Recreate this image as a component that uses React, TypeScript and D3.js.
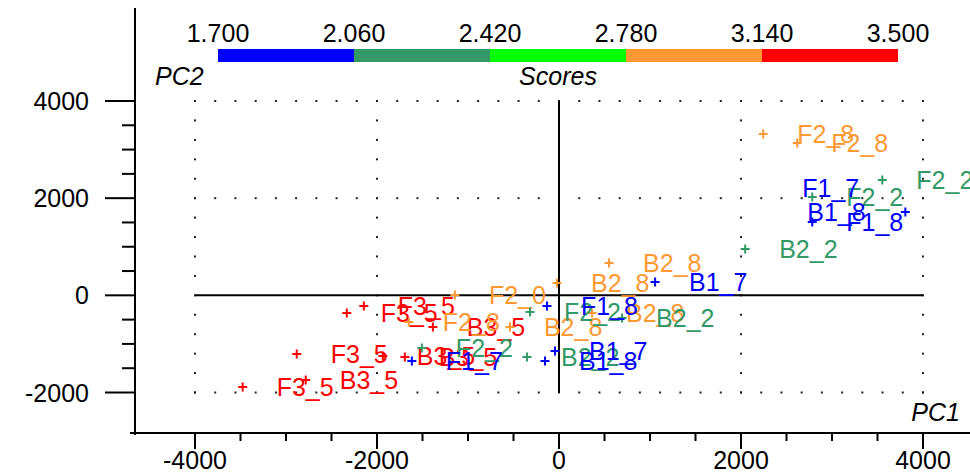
import React from "react";
import * as d3 from "d3";

// ---- data ----
const sampleNames = [
  // red
  "F3_5", "F3_5", "B3_5", "F3_5", "F3_5", "B3_5", "B3_5", "B3_5",
  // orange
  "F2_8", "F2_8", "B2_8", "B2_8", "F2_0", "F2_8", "B2_8", "B2_8",
  // sea green
  "F2_2", "F2_2", "B2_2", "F2_2", "B2_2", "F2_2", "B2_2",
  // blue
  "F1_7", "B1_8", "F1_8", "", "B1_7", "F1_8", "B1_7", "B1_8", "F1_7",
];
const pc1Values = [
  -3476, -2882, -2783, -2332, -2145, -1386, -1936, -1694,
  2244, 2618, 550, -22, -1144, -1650, -539, 363,
  3553, 2783, 2046, -319, 693, -1507, -352,
  2299, 2354, 2783, 3806, 1056, -132, -44, -154, -1617,
];
const pc2Values = [
  -1888, -1208, -1743, -364, -220, -652, -1249, -1270,
  3320, 3135, 665, 253, 6, -550, -652, -364,
  2373, 2023, 953, -344, -467, -1085, -1270,
  2209, 1715, 1509, 1715, 274, -220, -1146, -1352, -1352,
];
const scoreValues = [
  3.32, 3.32, 3.32, 3.32, 3.32, 3.32, 3.32, 3.32,
  2.96, 2.96, 2.96, 2.96, 2.96, 2.96, 2.96, 2.96,
  2.24, 2.24, 2.24, 2.24, 2.24, 2.24, 2.24,
  1.88, 1.88, 1.88, 1.88, 1.88, 1.88, 1.88, 1.88, 1.88,
];
// samples whose marker is not visible in the reference (label only)
const labelOnly = ["F1_7@23", "B1_8@24"];

const legendStops = [1.7, 2.06, 2.42, 2.78, 3.14, 3.5];
const legendColors = ["#0000ff", "#339966", "#00ff00", "#ff9933", "#ff0000"];
const xTickLabels = [-4000, -2000, 0, 2000, 4000];
const yTickLabels = [-2000, 0, 2000, 4000];

const W = 970;
const H = 474;
const FONT = "'Liberation Sans', Arial, sans-serif";
const FS = 25;

export default function App() {
  const x = d3.scaleLinear().domain([-4000, 4000]).range([195, 923]);
  const y = d3.scaleLinear().domain([-2000, 4000]).range([392.5, 101]);
  const colorOf = d3.scaleThreshold<number, string>()
    .domain(legendStops.slice(1, -1))
    .range(legendColors);
  const legendX = d3.scaleLinear().domain([1.7, 3.5]).range([218, 898]);

  const axisX = 135;
  const axisY = 433;

  const xMinor = d3.range(-4000, 4001, 500);
  const yMinor = d3.range(-2000, 4001, 500);

  // dotted grid
  const dotXs = d3.range(0, 37).map((i) => -4000 + (i * 2000) / 9);
  const dotYs = d3.range(-2000, 4001, 400);
  const dots: [number, number][] = [];
  [-2000, 2000, 4000].forEach((gy) => dotXs.forEach((dx) => dots.push([x(dx), y(gy)])));
  [-4000, -2000, 2000, 4000].forEach((gx) => dotYs.forEach((dy) => dots.push([x(gx), y(dy)])));

  const idx = d3.range(sampleNames.length);
  const hidden = new Set(labelOnly.map((s) => +s.split("@")[1]));

  return (
    <svg
      width={W}
      height={H}
      style={{ position: "fixed", left: 0, top: 0, background: "#fff" }}
      fontFamily={FONT}
    >
      <rect x={0} y={0} width={W} height={H} fill="#fff" />
      {/* grid dots */}
      {dots.map(([dx, dy], i) => (
        <rect key={"d" + i} x={dx - 1} y={dy - 1} width={2} height={2} fill="#222" />
      ))}
      {/* crosshair at zero */}
      <line x1={x(-4000)} x2={x(4000)} y1={y(0)} y2={y(0)} stroke="#000" strokeWidth={2} />
      <line x1={x(0)} x2={x(0)} y1={y(4000)} y2={y(-2000)} stroke="#000" strokeWidth={2} />

      {/* axes */}
      <line x1={axisX} x2={axisX} y1={8} y2={axisY + 2} stroke="#000" strokeWidth={2} />
      <line x1={130} x2={W} y1={axisY} y2={axisY} stroke="#000" strokeWidth={2} />
      {yMinor.map((v) => (
        <line
          key={"yt" + v}
          x1={axisX - (v % 2000 === 0 ? 30 : 13)}
          x2={axisX}
          y1={y(v)}
          y2={y(v)}
          stroke="#000"
          strokeWidth={2}
        />
      ))}
      {xMinor.map((v) => (
        <line
          key={"xt" + v}
          x1={x(v)}
          x2={x(v)}
          y1={axisY}
          y2={axisY + (v % 2000 === 0 ? 16 : 8)}
          stroke="#000"
          strokeWidth={2}
        />
      ))}
      {yTickLabels.map((v) => (
        <text key={"yl" + v} x={89} y={y(v) + 9} textAnchor="end" fontSize={FS} fill="#000">
          {v}
        </text>
      ))}
      {xTickLabels.map((v) => (
        <text key={"xl" + v} x={x(v)} y={469} textAnchor="middle" fontSize={FS} fill="#000">
          {v}
        </text>
      ))}

      {/* legend */}
      {legendColors.map((c, i) => (
        <rect
          key={"lg" + i}
          x={legendX(legendStops[i])}
          y={49}
          width={legendX(legendStops[i + 1]) - legendX(legendStops[i])}
          height={13}
          fill={c}
        />
      ))}
      {legendStops.map((s) => (
        <text key={"ls" + s} x={legendX(s)} y={42} textAnchor="middle" fontSize={FS} fill="#000">
          {s.toFixed(3)}
        </text>
      ))}
      <text x={155} y={85} fontSize={FS} fontStyle="italic" fill="#000">PC2</text>
      <text x={558} y={85} fontSize={FS} fontStyle="italic" textAnchor="middle" fill="#000">Scores</text>
      <text x={960} y={421} fontSize={FS} fontStyle="italic" textAnchor="end" fill="#000">PC1</text>

      {/* samples */}
      {idx.map((i) => {
        const px = x(pc1Values[i]);
        const py = y(pc2Values[i]);
        const c = colorOf(scoreValues[i]);
        return (
          <g key={"s" + i}>
            {!hidden.has(i) && (
              <path d={`M${px - 4.5},${py}H${px + 4.5}M${px},${py - 4.5}V${py + 4.5}`} stroke={c} strokeWidth={2} />
            )}
            {sampleNames[i] && (
              <text x={px + 34} y={py + 9} fontSize={FS} fill={c}>
                {sampleNames[i]}
              </text>
            )}
          </g>
        );
      })}
    </svg>
  );
}
